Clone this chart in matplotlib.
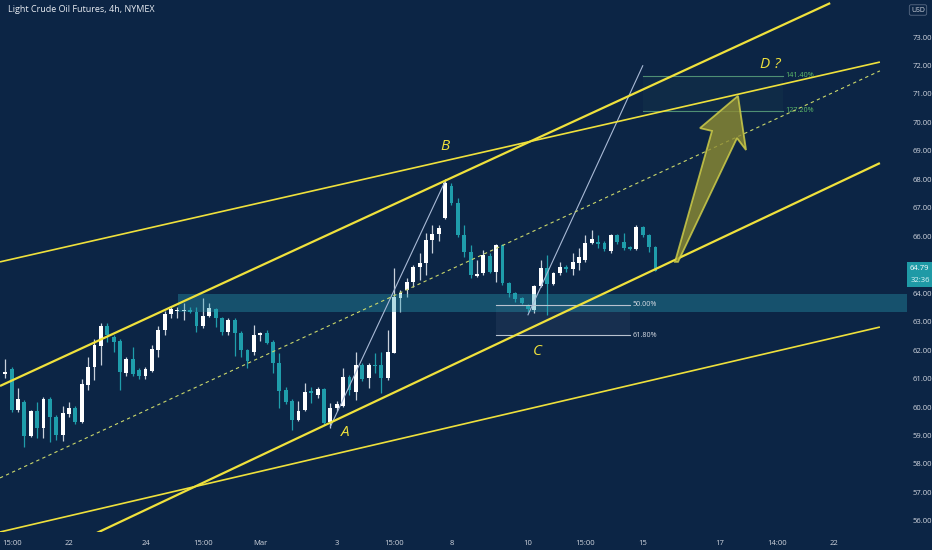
import numpy as np
import matplotlib
matplotlib.use("Agg")
import matplotlib.pyplot as plt
from matplotlib.patches import Polygon, Rectangle

# 4h bars, index 0 = first bar of Feb 22
bar_start = -10
opens = [61.16, 61.34, 59.90, 60.18, 58.99, 59.86, 59.27, 60.28, 59.65, 59.02,
         59.76, 59.97, 59.48, 60.78, 61.41, 62.15, 62.85, 62.46, 62.32, 61.20,
         61.69, 61.30, 61.09, 61.27, 62.01, 62.71, 63.27, 63.38, 63.38, 63.41,
         63.34, 62.85, 63.20, 63.45, 63.13, 62.64, 63.06, 62.60, 62.01, 61.94,
         62.53, 62.60, 62.29, 61.55, 60.60, 60.21, 59.55, 59.90, 60.57, 60.43,
         60.64, 59.48, 59.97, 60.04, 61.06, 60.53, 61.48, 61.02, 61.48, 61.48,
         61.02, 61.90, 63.83, 64.11, 64.39, 64.92, 65.06, 65.87, 66.08, 66.64,
         67.77, 67.17, 66.05, 65.45, 64.61, 64.71, 65.31, 64.75, 65.69, 64.36,
         64.01, 63.83, 63.59, 63.41, 64.25, 64.89, 64.32, 64.71, 64.92, 64.85,
         65.06, 65.17, 65.76, 65.80, 65.76, 65.48, 66.05, 65.80, 65.62, 65.55,
         66.33, 66.05, 65.62]
highs = [61.69, 61.41, 60.67, 60.25, 59.90, 60.18, 60.35, 60.35, 59.72, 60.04,
         60.18, 60.04, 60.99, 61.76, 62.39, 62.95, 62.95, 62.53, 62.39, 61.76,
         62.11, 61.37, 61.41, 62.18, 62.85, 63.38, 63.52, 63.52, 63.66, 63.52,
         63.52, 63.83, 63.66, 63.48, 63.17, 63.13, 63.13, 62.67, 62.04, 62.88,
         62.64, 62.71, 62.36, 61.90, 60.71, 60.28, 60.21, 60.85, 60.71, 60.71,
         60.67, 60.14, 60.21, 61.37, 61.13, 61.94, 61.55, 61.55, 61.90, 61.94,
         62.71, 64.89, 64.11, 64.54, 64.99, 65.41, 66.12, 66.40, 66.40, 67.98,
         67.87, 67.34, 66.40, 65.69, 65.17, 65.52, 65.41, 65.73, 65.73, 64.39,
         64.04, 63.87, 63.62, 64.29, 65.17, 65.34, 64.75, 65.10, 64.99, 65.41,
         65.59, 66.05, 66.22, 66.05, 65.83, 66.08, 66.08, 66.12, 65.66, 66.40,
         66.36, 66.08, 65.66]
lows = [61.02, 59.83, 59.83, 58.60, 58.95, 58.92, 58.92, 58.77, 58.84, 58.81,
        59.65, 59.41, 59.44, 60.60, 60.95, 61.48, 62.29, 61.94, 60.60, 61.09,
        61.09, 60.99, 60.99, 61.23, 61.76, 62.53, 63.13, 63.13, 63.06, 63.31,
        62.64, 62.78, 63.17, 62.81, 62.53, 62.53, 61.80, 61.76, 61.37, 61.83,
        62.32, 62.22, 61.20, 59.97, 60.11, 59.20, 59.51, 59.86, 60.14, 60.32,
        59.37, 59.27, 59.86, 60.01, 60.43, 60.25, 60.92, 60.67, 61.20, 60.50,
        60.95, 61.90, 63.34, 63.87, 64.22, 64.46, 64.64, 65.41, 65.83, 66.60,
        67.10, 65.98, 65.27, 64.54, 64.57, 64.64, 64.71, 64.39, 64.29, 63.87,
        63.69, 63.62, 63.34, 63.31, 64.22, 63.24, 64.29, 64.64, 64.75, 64.64,
        64.82, 65.10, 65.73, 65.59, 65.48, 65.41, 65.73, 65.52, 65.52, 65.52,
        65.98, 65.45, 64.79]
closes = [61.23, 59.90, 60.28, 58.99, 59.86, 59.27, 60.28, 59.65, 59.02, 59.79,
          59.97, 59.48, 60.81, 61.41, 62.18, 62.85, 62.53, 62.29, 61.23, 61.69,
          61.16, 61.09, 61.34, 62.04, 62.71, 63.27, 63.45, 63.41, 63.40, 63.34,
          62.85, 63.20, 63.48, 63.13, 62.64, 63.06, 62.60, 62.01, 61.62, 62.53,
          62.60, 62.25, 61.55, 60.57, 60.18, 59.55, 59.86, 60.53, 60.50, 60.64,
          59.44, 59.97, 60.11, 61.06, 60.60, 61.48, 60.99, 61.48, 61.44, 61.02,
          61.94, 63.87, 64.01, 64.39, 64.92, 65.06, 65.87, 66.08, 66.29, 67.87,
          67.17, 66.05, 65.45, 64.64, 64.68, 65.34, 64.75, 65.69, 64.36, 64.01,
          63.80, 63.66, 63.45, 64.25, 64.89, 64.32, 64.71, 64.92, 64.85, 65.10,
          65.27, 65.76, 65.90, 65.73, 65.55, 66.05, 65.80, 65.59, 65.55, 66.33,
          66.05, 65.62, 64.79]

tick_pos = [-9, 0, 12, 21, 30, 42, 51, 60, 72, 81, 90, 102, 111, 120]
tick_labels = ["15:00", "22", "24", "15:00", "Mar", "3", "15:00", "8",
               "10", "15:00", "15", "17", "14:00", "22"]
price_ticks = list(range(56, 74))

# drawn lines: (x0, y0, x1, y1) in bar index / price
channel_top = (-10.82, 60.74, 119.4, 74.19)
channel_bottom = (4.39, 55.58, 127.2, 68.57)
channel_mid = (-10.82, 57.51, 127.2, 71.81)
b_line = (-10.82, 65.10, 127.2, 72.12)
low_line = (-10.82, 55.61, 127.2, 62.81)
leg_ab = (41.0, 59.31, 59.1, 67.98)
leg_cd = (72.0, 63.24, 90.0, 71.99)

zone = (17.1, 63.34, 63.97)
fib_ret = (67.0, 88.0, [63.59, 62.53], ["50.00%", "61.80%"])
fib_ext = (90.0, 112.0, [71.64, 70.41], ["141.40%", "127.20%"])

arrow_x = [95.06, 100.86, 98.98, 104.94, 106.2, 104.78, 95.53]
arrow_y = [65.10, 69.70, 69.80, 70.93, 69.03, 69.45, 65.10]

wave_labels = ["A", "B", "C", "D ?"]
wave_x = [43.3, 59.0, 73.4, 110.0]
wave_y = [59.09, 69.17, 61.94, 72.02]

last_price = "64.79"
countdown = "32:36"

BG = "#0c2545"
TEAL = "#1f9dab"
YEL = "#efe13c"
TXT = "#d1d6df"

plt.rcParams['font.family'] = ['Open Sans', 'DejaVu Sans']

W, H = 932, 550
fig = plt.figure(figsize=(W / 100, H / 100), dpi=100, facecolor=BG)
ax = fig.add_axes([0, 18 / H, 907 / W, 532 / H], facecolor=BG)
ax.set_xlim(-10.82, 131.45)
ax.set_ylim(55.61, 74.30)
for s in ax.spines.values():
    s.set_visible(False)

idx = np.arange(bar_start, bar_start + len(opens))
o = np.array(opens)
h = np.array(highs)
l = np.array(lows)
c = np.array(closes)
up = c >= o
colors = np.where(up, "#ffffff", TEAL)
wick_colors = np.where(up, "#c9d1dc", TEAL)

ax.vlines(idx, l, h, colors=wick_colors, linewidth=0.9, zorder=2)
body_lo = np.minimum(o, c)
body_h = np.maximum(np.abs(c - o), 0.04)
ax.bar(idx, body_h, bottom=body_lo, width=0.62, color=colors, linewidth=0, zorder=3)

# support/resistance zone
ax.add_patch(Rectangle((zone[0], zone[1]), 200, zone[2] - zone[1],
                       facecolor="#29a0b5", alpha=0.36, linewidth=0, zorder=4))

# fib retracement
x0, x1, lv, lb = fib_ret
ax.add_patch(Rectangle((x0, lv[1]), x1 - x0, lv[0] - lv[1],
                       facecolor="#9fb0c8", alpha=0.08, linewidth=0, zorder=1))
for v, t in zip(lv, lb):
    ax.plot([x0, x1], [v, v], color="#b9c2cf", lw=0.8, zorder=5)
    ax.text(x1 + 0.4, v, t, color="#d7dce4", fontsize=5.2, va="center", ha="left", zorder=6)

# fib extension
x0, x1, lv, lb = fib_ext
ax.add_patch(Rectangle((x0, lv[1]), x1 - x0, lv[0] - lv[1],
                       facecolor="#4f9a6a", alpha=0.06, linewidth=0, zorder=1))
for v, t in zip(lv, lb):
    ax.plot([x0, x1], [v, v], color="#4f8f74", lw=0.8, zorder=5)
    ax.text(x1 + 0.4, v, t, color="#5fbf6a", fontsize=5.2, va="center", ha="left", zorder=6)

# thin leg lines
for seg in (leg_ab, leg_cd):
    ax.plot([seg[0], seg[2]], [seg[1], seg[3]], color="#a9bad6", lw=0.8, zorder=5)

# trend lines
for seg, lw in ((channel_top, 1.6), (channel_bottom, 1.6), (b_line, 1.2), (low_line, 1.2)):
    ax.plot([seg[0], seg[2]], [seg[1], seg[3]], color=YEL, lw=lw, zorder=6,
            solid_capstyle="butt")
ax.plot([channel_mid[0], channel_mid[2]], [channel_mid[1], channel_mid[3]],
        color="#cbd86c", lw=0.8, ls=(0, (3, 3)), zorder=6)

# projection arrow
ax.add_patch(Polygon(list(zip(arrow_x, arrow_y)), closed=True, facecolor="#8e8c33",
                     alpha=0.8, edgecolor="#d6d44a", linewidth=1.3, zorder=7))

for t, x, y in zip(wave_labels, wave_x, wave_y):
    ax.text(x, y, t, color=YEL, fontsize=11, fontstyle="italic", ha="center",
            va="center", zorder=8)

# axes ticks
ax.set_xticks(tick_pos)
ax.set_xticklabels(tick_labels)
ax.set_yticks(price_ticks)
ax.set_yticklabels([f"{v:.2f}" for v in price_ticks])
ax.yaxis.tick_right()
ax.tick_params(axis="both", length=0, colors=TXT, labelsize=5.5)
ax.tick_params(axis="y", pad=4)
ax.tick_params(axis="x", pad=6)

# last price tag
fig.patches.append(Rectangle((907 / W, 1 - 287 / H), 25 / W, 25 / H, transform=fig.transFigure,
                             facecolor="#1f9aa6", edgecolor="none", zorder=10))
fig.text(909.5 / W, 1 - 269 / H, last_price, color="white", fontsize=5.5, va="center", zorder=11)
fig.text(911 / W, 1 - 281 / H, countdown, color="#dff5f7", fontsize=5.5, va="center", zorder=11)

fig.text(918 / W, 1 - 10 / H, "USD", color=TXT, fontsize=5, ha="center", va="center",
         bbox=dict(boxstyle="round,pad=0.25", facecolor=BG, edgecolor="#5a6b85", lw=0.6))

fig.text(8 / W, 1 - 9 / H, "Light Crude Oil Futures, 4h, NYMEX", color="#e8ecf2",
         fontsize=6.5, va="center", ha="left")

fig.savefig("out.png", dpi=100, facecolor=BG)
